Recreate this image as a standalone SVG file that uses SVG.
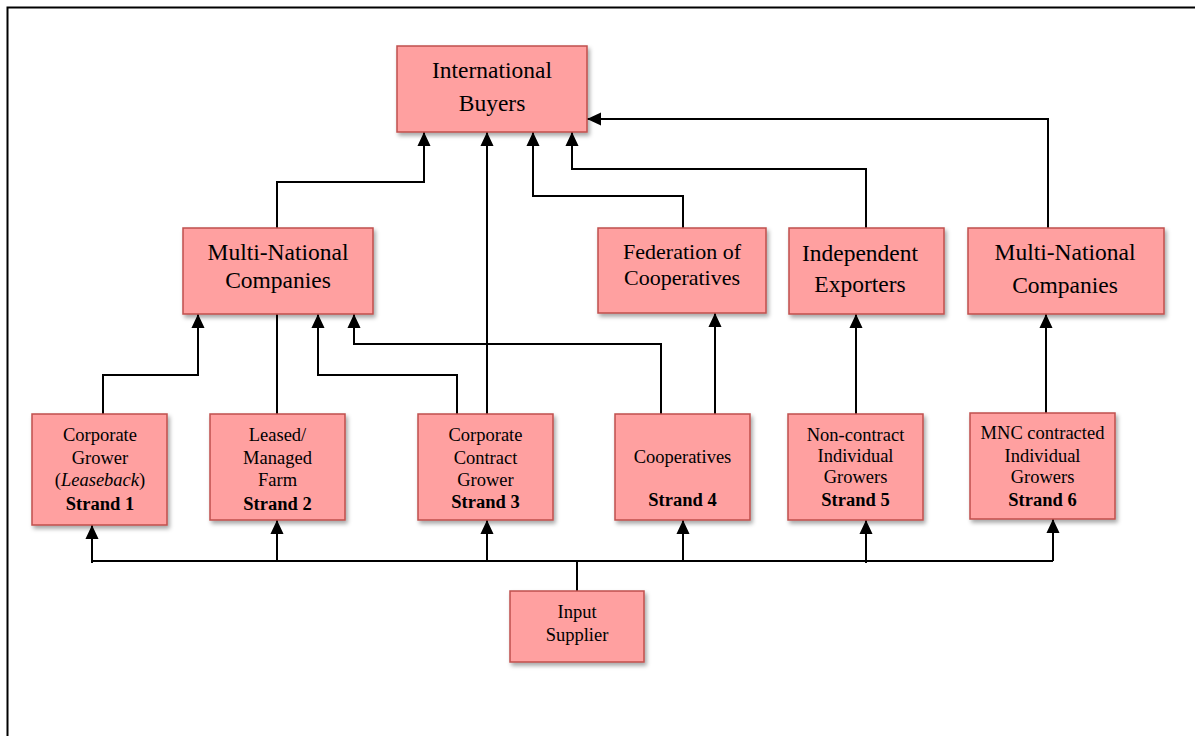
<svg xmlns="http://www.w3.org/2000/svg" width="1195" height="736" viewBox="0 0 1195 736">
<defs>
<filter id="sh" x="-10%" y="-10%" width="130%" height="130%">
<feDropShadow dx="2" dy="3" stdDeviation="2" flood-color="#000" flood-opacity="0.35"/>
</filter>
<marker id="ah" markerUnits="userSpaceOnUse" markerWidth="14" markerHeight="15" viewBox="0 0 15 14" refX="15" refY="7" orient="auto">
<path d="M0,0 L15,7 L0,14 z" fill="#000"/>
</marker>
<style>
.box{fill:#ffa0a0;stroke:#c0504d;stroke-width:1.5;filter:url(#sh)}
.t{font-family:"Liberation Serif","Times New Roman",serif;fill:#000;text-anchor:middle}
.big{font-size:23.5px}
.sm{font-size:18.5px}
.b{font-weight:bold}
.c{fill:none;stroke:#000;stroke-width:2}
.a{marker-end:url(#ah)}
</style>
</defs>
<rect x="0" y="0" width="1195" height="736" fill="#fff"/>
<rect x="7.5" y="7.5" width="1200" height="740" fill="none" stroke="#000" stroke-width="2"/>

<g id="connectors">
<path class="c a" d="M277,228 V182 H424 V132"/>
<path class="c a" d="M487,414 V132"/>
<path class="c a" d="M683,228 V196 H533 V132"/>
<path class="c a" d="M866,228 V169 H572 V132"/>
<path class="c a" d="M1048,228 V119 H587"/>
<path class="c a" d="M103,414 V375 H198 V314"/>
<path class="c" d="M277,414 V314"/>
<path class="c a" d="M457,414 V375 H318 V314"/>
<path class="c a" d="M661,414 V344 H354 V314"/>
<path class="c a" d="M715,414 V313"/>
<path class="c a" d="M856,414 V314"/>
<path class="c a" d="M1046,413 V314"/>
<path class="c" d="M92,561 H1053"/>
<path class="c" d="M577,591 V561"/>
<path class="c a" d="M92,563 V525"/>
<path class="c a" d="M277,561 V520"/>
<path class="c a" d="M487,561 V520"/>
<path class="c a" d="M683,561 V520"/>
<path class="c a" d="M866,563 V520"/>
<path class="c a" d="M1053,561 V519"/>
</g>

<g id="international-buyers">
<rect class="box" x="397" y="46" width="190" height="86"/>
<text class="t big" x="492" y="78">International</text>
<text class="t big" x="492" y="111">Buyers</text>
</g>
<g id="mnc-left">
<rect class="box" x="183" y="228" width="190" height="86"/>
<text class="t big" x="278" y="260">Multi-National</text>
<text class="t big" x="278" y="288">Companies</text>
</g>
<g id="federation">
<rect class="box" x="598" y="228" width="168" height="85"/>
<text class="t" style="font-size:22px" x="682" y="259">Federation of</text>
<text class="t" style="font-size:22px" x="682" y="285">Cooperatives</text>
</g>
<g id="independent-exporters">
<rect class="box" x="789" y="228" width="155" height="86"/>
<text class="t big" x="860" y="261">Independent</text>
<text class="t big" x="860" y="292">Exporters</text>
</g>
<g id="mnc-right">
<rect class="box" x="968" y="228" width="196" height="86"/>
<text class="t big" x="1065" y="260">Multi-National</text>
<text class="t big" x="1065" y="293">Companies</text>
</g>

<g id="strand1">
<rect class="box" x="32" y="414" width="135" height="111"/>
<text class="t sm" x="100" y="441">Corporate</text>
<text class="t sm" x="100" y="464">Grower</text>
<text class="t sm" x="100" y="486">(<tspan font-style="italic">Leaseback</tspan>)</text>
<text class="t sm b" x="100" y="510">Strand 1</text>
</g>
<g id="strand2">
<rect class="box" x="210" y="414" width="135" height="106"/>
<text class="t sm" x="277.5" y="441">Leased/</text>
<text class="t sm" x="277.5" y="464">Managed</text>
<text class="t sm" x="277.5" y="486">Farm</text>
<text class="t sm b" x="277.5" y="510">Strand 2</text>
</g>
<g id="strand3">
<rect class="box" x="418" y="414" width="135" height="106"/>
<text class="t sm" x="485.5" y="441">Corporate</text>
<text class="t sm" x="485.5" y="464">Contract</text>
<text class="t sm" x="485.5" y="486">Grower</text>
<text class="t sm b" x="485.5" y="508">Strand 3</text>
</g>
<g id="strand4">
<rect class="box" x="615" y="414" width="135" height="106"/>
<text class="t sm" x="682.5" y="463">Cooperatives</text>
<text class="t sm b" x="682.5" y="506">Strand 4</text>
</g>
<g id="strand5">
<rect class="box" x="788" y="414" width="135" height="106"/>
<text class="t sm" x="855.5" y="441">Non-contract</text>
<text class="t sm" x="855.5" y="462">Individual</text>
<text class="t sm" x="855.5" y="483">Growers</text>
<text class="t sm b" x="855.5" y="506">Strand 5</text>
</g>
<g id="strand6">
<rect class="box" x="970" y="413" width="145" height="106"/>
<text class="t sm" x="1042.5" y="439">MNC contracted</text>
<text class="t sm" x="1042.5" y="462">Individual</text>
<text class="t sm" x="1042.5" y="483">Growers</text>
<text class="t sm b" x="1042.5" y="506">Strand 6</text>
</g>
<g id="input-supplier">
<rect class="box" x="510" y="591" width="134" height="71"/>
<text class="t" style="font-size:18.5px" x="577" y="618">Input</text>
<text class="t" style="font-size:18.5px" x="577" y="641">Supplier</text>
</g>
</svg>
